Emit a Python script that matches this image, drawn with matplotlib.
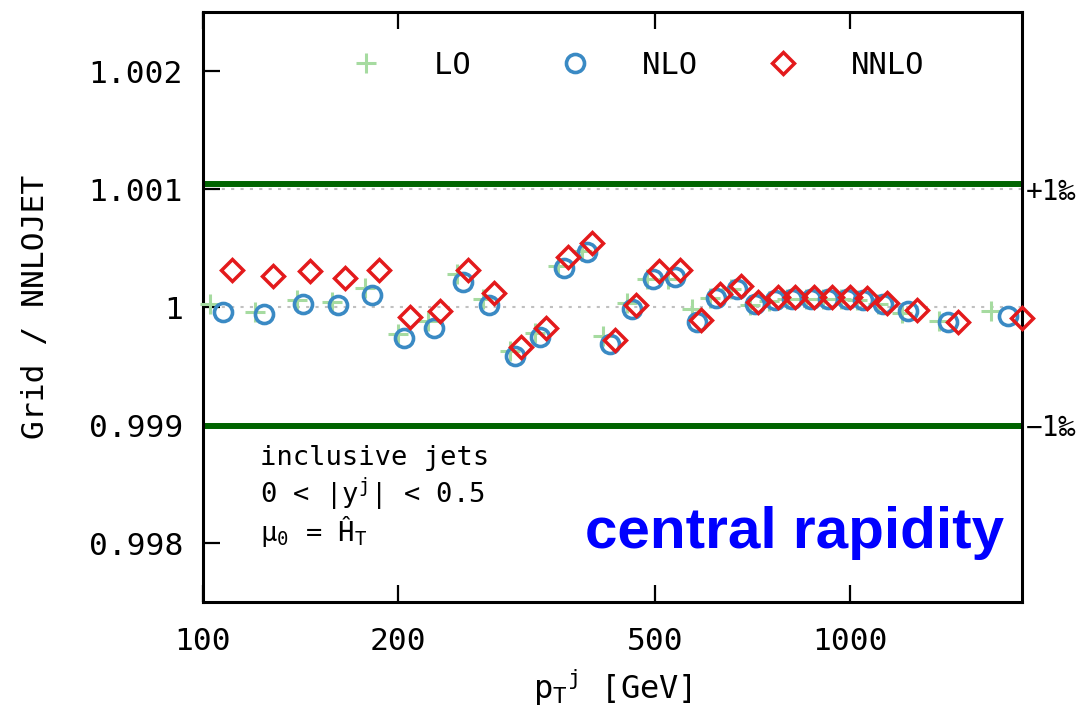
import matplotlib
matplotlib.use('Agg')
import matplotlib.pyplot as plt
from matplotlib.lines import Line2D

plt.rcParams['font.family'] = ['DejaVu Sans Mono', 'DejaVu Sans']
plt.rcParams['mathtext.fontset'] = 'custom'
plt.rcParams['mathtext.rm'] = 'DejaVu Sans Mono'
plt.rcParams['mathtext.it'] = 'DejaVu Sans Mono'

# pT values (GeV) where each order is drawn
pt_lo = [102.7, 120.5, 139.9, 158.4, 178.1, 200.3, 222.8, 247.0, 270.9, 298.2,
         325.9, 353.6, 385.1, 415.0, 451.9, 485.2, 522.6, 569.1, 606.7, 653.7,
         699.3, 748.2, 797.6, 853.4, 906.5, 969.1, 1026, 1102, 1200, 1369, 1652]
pt_nlo = [107.5, 124.4, 142.9, 161.8, 182.6, 204.6, 227.6, 252.3, 276.7, 303.5,
          331.7, 361.2, 392.0, 425.4, 460.0, 495.4, 535.7, 579.3, 619.7, 667.8,
          711.9, 764.3, 812.0, 868.7, 922.7, 986.9, 1045, 1122, 1226, 1413, 1749]
pt_nnlo = [111.0, 128.5, 146.5, 165.9, 187.2, 209.0, 232.5, 256.8, 281.7, 310.0,
           338.8, 366.4, 399.0, 433.0, 466.6, 506.1, 545.3, 587.6, 628.6, 677.3,
           719.5, 772.5, 820.7, 878.0, 935.9, 997.5, 1060, 1138, 1266, 1464, 1844]

# grid / NNLOJET ratios
r_lo = [1.000025, 0.999958, 1.000059, 1.000042, 1.000161, 0.999771, 0.999881, 1.000280,
        1.000068, 0.999627, 0.999780, 1.000347, 1.000475, 0.999754, 1.000034, 1.000237,
        1.000237, 0.999983, 1.000076, 1.000153, 1.000017, 1.000051, 1.000068, 1.000068,
        1.000068, 1.000068, 1.000059, 1.000025, 0.999949, 0.999881, 0.999966]
r_nlo = [0.999958, 0.999941, 1.000025, 1.000017, 1.000102, 0.999737, 0.999822, 1.000212,
         1.000017, 0.999585, 0.999746, 1.000331, 1.000466, 0.999686, 0.999983, 1.000237,
         1.000254, 0.999873, 1.000076, 1.000153, 1.000025, 1.000059, 1.000068, 1.000068,
         1.000068, 1.000068, 1.000059, 1.000025, 0.999966, 0.999873, 0.999924]
r_nnlo = [1.000314, 1.000263, 1.000305, 1.000246, 1.000314, 0.999915, 0.999966, 1.000314,
          1.000119, 0.999661, 0.999822, 1.000424, 1.000542, 0.999720, 1.000017, 1.000305,
          1.000314, 0.999890, 1.000110, 1.000178, 1.000042, 1.000085, 1.000085, 1.000085,
          1.000085, 1.000085, 1.000076, 1.000034, 0.999975, 0.999873, 0.999907]

band_hi = 1.00104
band_lo = 0.99899
yticks = [0.998, 0.999, 1.0, 1.001, 1.002]
ytick_labels = ['0.998', '0.999', '1', '1.001', '1.002']
xticks = [100, 200, 500, 1000]

LO_STYLE = dict(ls='none', marker='+', ms=14, mew=2.2, color='#a6dba0')
NLO_STYLE = dict(ls='none', marker='o', ms=13, mew=2.6, mfc='none', color='#3a8ac4')
NNLO_STYLE = dict(ls='none', marker='D', ms=11, mew=2.5, mfc='none', color='#e31a1c')

fig = plt.figure(figsize=(10.83, 7.07), dpi=100)
ax = fig.add_axes([0.187, 0.1485, 0.7565, 0.8345])

for y in [0.999, 1.0, 1.001]:
    ax.axhline(y, color='#c0c0c0', lw=1.5, ls=(0, (1.5, 3)), zorder=1)
ax.axhline(band_hi, color='#006400', lw=4.3, zorder=2)
ax.axhline(band_lo, color='#006400', lw=4.3, zorder=2)

ax.plot(pt_lo, r_lo, clip_on=False, zorder=3, **LO_STYLE)
ax.plot(pt_nlo, r_nlo, clip_on=False, zorder=4, **NLO_STYLE)
ax.plot(pt_nnlo, r_nnlo, clip_on=False, zorder=5, **NNLO_STYLE)

ax.set_xscale('log')
ax.set_xlim(100, 1840)
ax.set_ylim(0.9975, 1.0025)
ax.set_xticks(xticks)
ax.set_xticklabels([str(t) for t in xticks])
ax.xaxis.set_minor_locator(matplotlib.ticker.NullLocator())
ax.set_yticks(yticks)
ax.set_yticklabels(ytick_labels)
ax.tick_params(axis='both', direction='in', length=12, width=1.6, labelsize=22.5,
               top=True, right=True)
ax.tick_params(axis='x', pad=18)
ax.tick_params(axis='y', pad=14)
for s in ax.spines.values():
    s.set_linewidth(2.2)

ax2 = ax.twinx()
ax2.set_ylim(ax.get_ylim())
ax2.set_yticks([0.999, 1.001])
ax2.set_yticklabels(['\u22121\u2030', '+1\u2030'])
ax2.tick_params(axis='y', direction='in', length=0, labelsize=20, pad=3)
for s in ax2.spines.values():
    s.set_visible(False)

ax.set_xlabel('p$_\\mathregular{T}$$^\\mathregular{j}$ [GeV]', fontsize=23, labelpad=8)
ax.set_ylabel('Grid / NNLOJET', fontsize=22.5, labelpad=28)

ax.text(0.070, 0.232, 'inclusive jets', transform=ax.transAxes, fontsize=19.5,
        va='baseline')
ax.text(0.070, 0.168, '0 < |y$^\\mathregular{j}$| < 0.5', transform=ax.transAxes,
        fontsize=19.5, va='baseline')
ax.text(0.070, 0.103, '\u03bc$_\\mathregular{0}$ = \u0124$_\\mathregular{T}$',
        transform=ax.transAxes, fontsize=19.5, va='baseline')
ax.text(0.979, 0.0915, 'central rapidity', transform=ax.transAxes, ha='right',
        va='baseline', fontsize=42, color='#0000ff', fontweight='bold',
        family='Liberation Sans')

handles = [Line2D([], [], **LO_STYLE), Line2D([], [], **NLO_STYLE),
           Line2D([], [], **NNLO_STYLE)]
ax.legend(handles, ['LO  ', 'NLO ', 'NNLO'], ncol=3, loc='center',
          bbox_to_anchor=(0.531, 0.91), frameon=False, fontsize=22,
          handlelength=1.0, handletextpad=1.7, columnspacing=1.72, numpoints=1)

fig.savefig('out.png', dpi=100)
